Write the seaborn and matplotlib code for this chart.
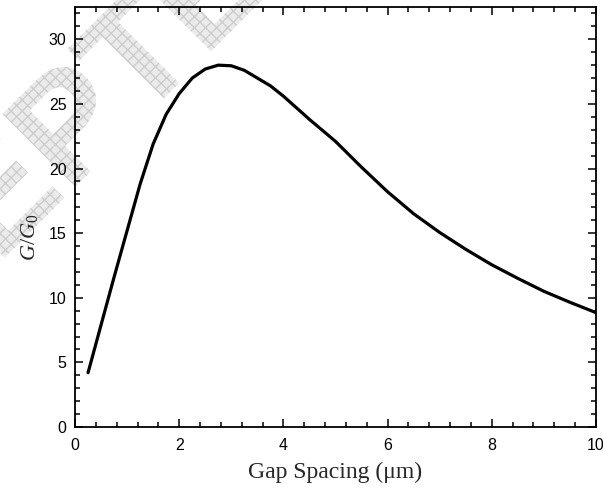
# Gap spacing vs normalised conductance

import numpy as np
import pandas as pd
import matplotlib
matplotlib.use("Agg")
import matplotlib.pyplot as plt
import matplotlib.patheffects as pe
from matplotlib.ticker import MultipleLocator
import seaborn as sns

# Section 1

gap_um = [0.25, 0.5, 0.75, 1.0, 1.25, 1.5, 1.75, 2.0, 2.25, 2.5, 2.75,
          3.0, 3.25, 3.5, 3.75, 4.0, 4.5, 5.0, 5.5, 6.0, 6.5, 7.0,
          7.5, 8.0, 8.5, 9.0, 9.5, 10.0]
g_ratio = [4.2, 7.9, 11.6, 15.2, 18.8, 21.9, 24.2, 25.8, 27.0, 27.7, 28.0,
           27.95, 27.6, 27.0, 26.4, 25.6, 23.8, 22.1, 20.1, 18.2, 16.5, 15.05,
           13.75, 12.55, 11.5, 10.5, 9.65, 8.85]

df = pd.DataFrame({"gap": gap_um, "G": g_ratio})

# Section 2 - Style

sns.set_theme(style="ticks")
plt.rcParams["font.family"] = ["Liberation Sans", "DejaVu Sans"]
plt.rcParams["mathtext.fontset"] = "custom"
plt.rcParams["mathtext.rm"] = "Liberation Serif"
plt.rcParams["mathtext.it"] = "Liberation Serif:italic"

fig = plt.figure(figsize=(6.03, 4.92), dpi=100)
ax = fig.add_axes([0.1244, 0.1321, 0.864, 0.8537])
ax.set_facecolor("none")

# watermark (mostly off the page, as in the source)
fig.text(-0.385, -0.005, "ACCEPTED MANUSCRIPT", fontsize=108, fontweight="bold",
         rotation=45, rotation_mode="anchor", ha="left", va="baseline",
         color="#eeeeee", zorder=-1,
         path_effects=[pe.PathPatchEffect(edgecolor="#cdcdcd", facecolor="#ebebeb",
                                          hatch="xxx", linewidth=0)])

# Section 3 - Plot

sns.lineplot(data=df, x="gap", y="G", ax=ax, color="black", linewidth=2.3)

ax.set_xlim(0, 10)
ax.set_ylim(0, 32.5)
ax.xaxis.set_major_locator(MultipleLocator(2))
ax.xaxis.set_minor_locator(MultipleLocator(0.4))
ax.yaxis.set_major_locator(MultipleLocator(5))
ax.yaxis.set_minor_locator(MultipleLocator(1))

ax.tick_params(which="both", direction="in", top=True, right=True,
               colors="black", width=1.1, labelsize=11.5)
ax.tick_params(axis="x", pad=8)
ax.tick_params(axis="y", pad=6)
ax.tick_params(which="major", length=6)
ax.tick_params(which="minor", length=3.5)
for s in ax.spines.values():
    s.set_linewidth(1.3)
    s.set_color("black")

ax.set_xlabel("Gap Spacing (\u03bcm)", fontsize=17, family="Liberation Serif", labelpad=6)
ax.set_ylabel(r"$\mathit{G/G}_{\mathrm{0}}$", fontsize=16, labelpad=8)
ax.yaxis.set_label_coords(-0.067, 0.452)

fig.savefig("out.png", dpi=100)
